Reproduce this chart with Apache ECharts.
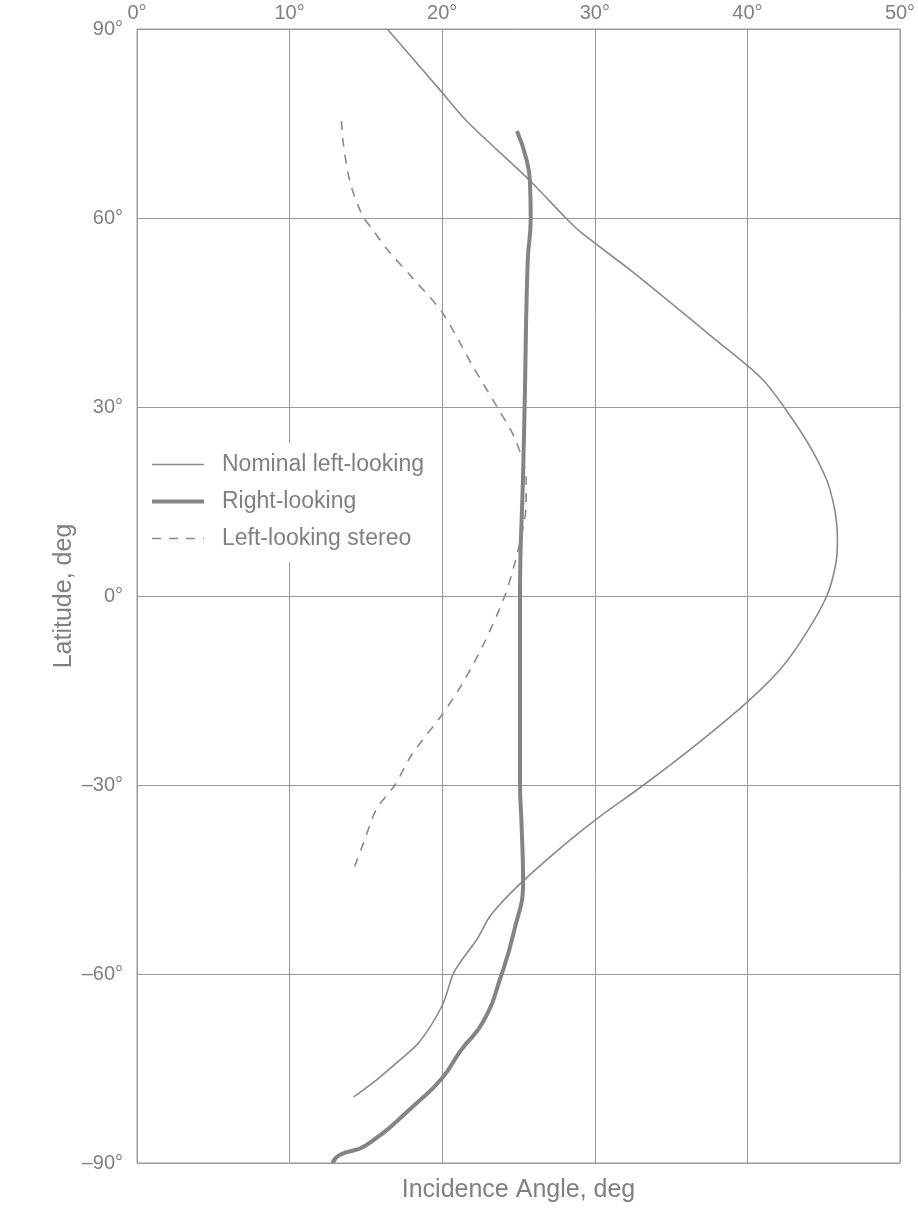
<!DOCTYPE html>
<html>
<head>
<meta charset="utf-8">
<script src="https://cdn.jsdelivr.net/npm/echarts@6/dist/echarts.min.js"></script>
<style>
html,body{margin:0;padding:0;background:#fff;}
#chart{width:918px;height:1208px;}
</style>
</head>
<body>
<div id="chart"></div>
<script>
// Tick labels
var xTicks = [0, 10, 20, 30, 40, 50];
var yTicks = [-90, -60, -30, 0, 30, 60, 90];
var seriesNames = ['Nominal left-looking', 'Right-looking', 'Left-looking stereo'];

// Nominal left-looking (thin solid)
var nominalLat   = [90, 79.9, 75.4, 65.8, 60, 57.7, 51.4, 40.7, 34.6, 30, 23.3, 17.0, 9.2, 5.2, 0, -6.1, -11.5, -16.8, -23.1, -30, -35.6, -39.9, -45.7, -50.6, -54.4, -59.6, -65.0, -70.8, -73.9, -77.0, -79.5];
var nominalAngle = [16.4, 20.0, 21.6, 25.8, 28.1, 29.1, 32.5, 37.9, 40.9, 42.4, 44.2, 45.4, 45.9, 45.8, 45.2, 43.8, 42.2, 40.0, 36.9, 33.2, 30.0, 27.8, 25.1, 23.2, 22.3, 20.8, 20.0, 18.5, 17.1, 15.6, 14.2];

// Right-looking (thick solid)
var rightLat   = [73.8, 69.5, 65.8, 60, 53, 30, 19.2, 0, -30, -36.2, -45.3, -53.3, -60, -67.5, -72.2, -76.5, -80.1, -87.2, -88.7, -90];
var rightAngle = [24.9, 25.5, 25.75, 25.8, 25.6, 25.4, 25.3, 25.1, 25.1, 25.2, 25.3, 24.7, 23.9, 22.7, 21.2, 20.0, 18.5, 15.0, 13.3, 12.8];

// Left-looking stereo (dashed)
var stereoLat   = [75.4, 72.2, 65.8, 60.5, 58.3, 55.0, 50.5, 45.0, 36.5, 30, 24.8, 18.5, 14.5, 10.8, 5.6, 0, -7.7, -14.0, -18.8, -25.2, -30, -33.8, -39.5, -43.3];
var stereoAngle = [13.4, 13.5, 13.95, 14.75, 15.4, 16.4, 18.05, 20.0, 22.0, 23.6, 24.8, 25.5, 25.5, 25.3, 24.8, 24.1, 22.7, 21.3, 20.0, 18.0, 16.9, 15.7, 14.8, 14.2];

function zip(a, b) { return a.map(function (v, i) { return [v, b[i]]; }); }

var gray = '#8a8a8a';
var textGray = '#808080';
var font = 'Liberation Sans, Arial, Helvetica, sans-serif';

var chart = echarts.init(document.getElementById('chart'), null, {renderer: 'canvas'});
chart.setOption({
  backgroundColor: '#ffffff',
  animation: false,
  grid: {left: 137, right: 18, top: 29, bottom: 45, containLabel: false, outerBoundsMode: 'none',
         show: true, borderColor: '#9a9a9a', borderWidth: 1, backgroundColor: 'transparent'},
  legend: {
    data: [
      {name: seriesNames[0], lineStyle: {width: 1.6, color: gray}},
      {name: seriesNames[1], lineStyle: {width: 4, color: '#848484'}},
      {name: seriesNames[2], lineStyle: {width: 1.6, color: gray, type: [9, 8]}}
    ],
    orient: 'vertical',
    left: 142,
    top: 443,
    itemWidth: 52,
    itemHeight: 14,
    itemGap: 14,
    padding: [10, 14, 12, 8],
    backgroundColor: '#ffffff',
    itemStyle: {opacity: 0},
    textStyle: {color: textGray, fontSize: 23, fontFamily: font, padding: [0, 0, 0, 13]}
  },
  xAxis: [{
    type: 'value', position: 'top', min: xTicks[0], max: xTicks[xTicks.length - 1], interval: 10,
    axisLine: {show: false}, axisTick: {show: false},
    axisLabel: {color: textGray, fontSize: 20, fontFamily: font, margin: 6, formatter: function (v) { return v + '°'; }},
    splitLine: {show: true, lineStyle: {color: '#9a9a9a', width: 1}}
  }, {
    type: 'value', position: 'bottom', min: xTicks[0], max: xTicks[xTicks.length - 1], interval: 10,
    axisLine: {show: false}, axisTick: {show: false}, axisLabel: {show: false}, splitLine: {show: false},
    name: 'Incidence Angle, deg', nameLocation: 'middle', nameGap: 15, nameMoveOverlap: false,
    nameTextStyle: {color: textGray, fontSize: 25, fontFamily: font}
  }],
  yAxis: {
    type: 'value', min: yTicks[0], max: yTicks[yTicks.length - 1], interval: 30,
    axisLine: {show: false}, axisTick: {show: false},
    axisLabel: {color: textGray, fontSize: 20, fontFamily: font, margin: 14, formatter: function (v) { return (v < 0 ? '\u2013' + Math.abs(v) : v) + '°'; }},
    splitLine: {show: true, lineStyle: {color: '#9a9a9a', width: 1}},
    name: 'Latitude, deg', nameLocation: 'middle', nameRotate: 90, nameGap: 60, nameMoveOverlap: false,
    nameTextStyle: {color: textGray, fontSize: 25, fontFamily: font}
  },
  series: [{
    name: seriesNames[0], type: 'line', data: zip(nominalAngle, nominalLat), symbol: 'none', smooth: 0.3,
    lineStyle: {color: gray, width: 1.6}, itemStyle: {color: gray}
  }, {
    name: seriesNames[1], type: 'line', data: zip(rightAngle, rightLat), symbol: 'none', smooth: 0.5,
    lineStyle: {color: '#848484', width: 4}, itemStyle: {color: '#848484'}
  }, {
    name: seriesNames[2], type: 'line', data: zip(stereoAngle, stereoLat), symbol: 'none', smooth: 0.3,
    lineStyle: {color: gray, width: 1.6, type: [9, 8]}, itemStyle: {color: gray}
  }]
});
</script>
</body>
</html>
